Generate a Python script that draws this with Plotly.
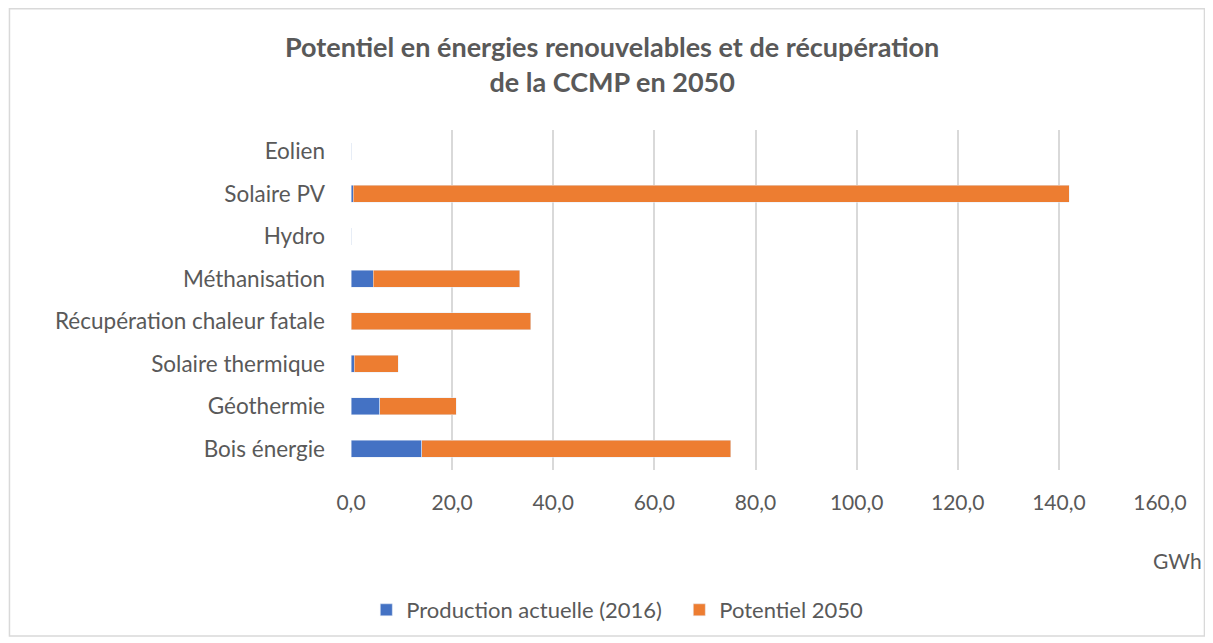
import plotly.graph_objects as go

categories = ["Bois énergie", "Géothermie", "Solaire thermique", "Récupération chaleur fatale",
              "Méthanisation", "Hydro", "Solaire PV", "Eolien"]
production_2016 = [14.0, 5.7, 0.6, 0.0, 4.4, 0.0, 0.4, 0.0]
potentiel_2050 = [61.1, 15.1, 8.7, 35.5, 29.0, 0.0, 141.7, 0.0]
x_ticks = [0, 20, 40, 60, 80, 100, 120, 140, 160]
x_tick_labels = ["0,0", "20,0", "40,0", "60,0", "80,0", "100,0", "120,0", "140,0", "160,0"]

FONT = "Lato, Carlito, Calibri, sans-serif"
GREY = "#595959"

fig = go.Figure()
fig.add_trace(go.Bar(y=categories, x=production_2016, orientation="h",
                     name="Production actuelle (2016)", marker=dict(color="#4472C4")))
fig.add_trace(go.Bar(y=categories, x=potentiel_2050, orientation="h",
                     name="Potentiel 2050", marker=dict(color="#ED7D31")))

# page has an 8px body margin: figure starts at (8, 8) of the window
OX, OY = 8, 8
W, H = 1213 - OX, 643 - OY
L, R, T, B = 350.5 - OX, 1213 - 1160, 130 - OY, 643 - 470
pw, ph = W - L - R, H - T - B

def px(x):
    return (x - OX - L) / pw

def py(y):
    return (H - B - (y - OY)) / ph

fig.update_layout(
    width=W, height=H,
    barmode="stack", bargap=0.6,
    paper_bgcolor="white", plot_bgcolor="white",
    margin=dict(l=L, r=R, t=T, b=B, autoexpand=False),
    font=dict(family=FONT, color=GREY, size=22),
    showlegend=True,
    legend=dict(orientation="h", x=px(679), xanchor="center", y=py(610), yanchor="middle",
                font=dict(size=22, color=GREY), traceorder="normal",
                entrywidth=268, entrywidthmode="pixels"),
    xaxis=dict(range=[0, 160], tickvals=x_ticks, ticktext=x_tick_labels,
               showgrid=True, gridcolor="#D9D9D9", gridwidth=2,
               zeroline=False, showline=False, ticks="",
               tickfont=dict(size=21, color=GREY), ticklabelstandoff=18),
    yaxis=dict(showgrid=False, showline=False, ticks="", zeroline=False,
               tickfont=dict(size=22.5, color=GREY), ticklabelstandoff=25,
               categoryorder="array", categoryarray=categories),
    annotations=[
        dict(text="<b>Potentiel en énergies renouvelables et de récupération<br>de la CCMP en 2050</b>",
             xref="paper", yref="paper", x=px(612), y=py(64), xanchor="center", yanchor="middle",
             showarrow=False, font=dict(size=27, color=GREY, family=FONT)),
        dict(text="GWh", xref="paper", yref="paper", x=px(1204), y=py(560),
             xanchor="right", yanchor="middle", showarrow=False,
             font=dict(size=21, color=GREY, family=FONT)),
    ],
    shapes=[
        dict(type="rect", xref="paper", yref="paper", x0=px(8.75), x1=px(1204.5), y0=py(8.75), y1=py(636),
             line=dict(color="#D9D9D9", width=1.5), fillcolor="rgba(0,0,0,0)", layer="below"),
    ],
)

fig.write_html("out.html")
